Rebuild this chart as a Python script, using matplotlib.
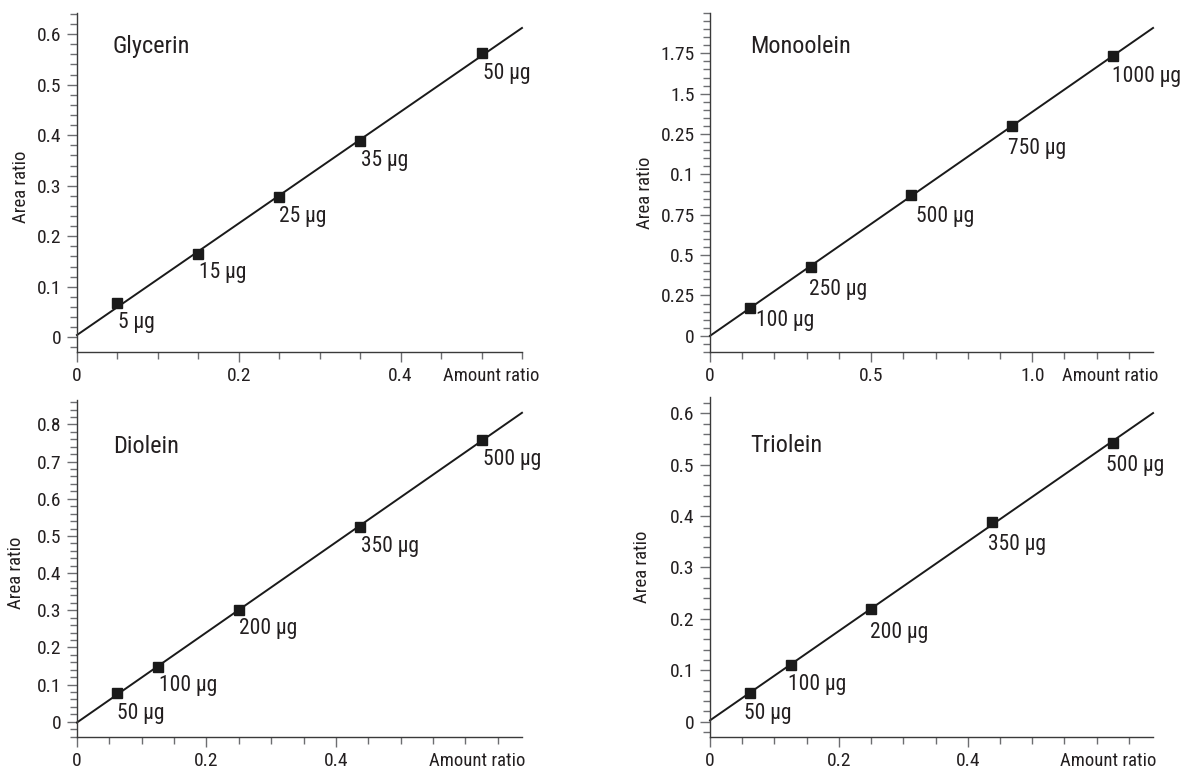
import matplotlib
matplotlib.use("Agg")
import matplotlib.pyplot as plt
import numpy as np
from matplotlib import font_manager
from matplotlib.ticker import MultipleLocator

# pick a condensed sans (the original uses a Univers-Condensed style face)
avail = {f.name for f in font_manager.fontManager.ttflist}
for cand in ['Roboto Condensed', 'IBM Plex Sans Condensed', 'Archivo Narrow', 'PT Sans Narrow']:
    if cand in avail:
        plt.rcParams['font.family'] = [cand, 'DejaVu Sans']
        break
else:
    plt.rcParams['font.family'] = ['DejaVu Sans']

# --- data ---
names = ["Glycerin", "Monoolein", "Diolein", "Triolein"]

gly_x = [0.05, 0.15, 0.25, 0.35, 0.50]
gly_y = [0.067, 0.165, 0.277, 0.388, 0.562]
gly_lab = ["5 µg", "15 µg", "25 µg", "35 µg", "50 µg"]

mono_x = [0.125, 0.3125, 0.625, 0.9375, 1.25]
mono_y = [0.175, 0.429, 0.870, 1.300, 1.733]
mono_lab = ["100 µg", "250 µg", "500 µg", "750 µg", "1000 µg"]

dio_x = [0.0625, 0.125, 0.25, 0.4375, 0.625]
dio_y = [0.076, 0.148, 0.301, 0.525, 0.758]
dio_lab = ["50 µg", "100 µg", "200 µg", "350 µg", "500 µg"]

tri_x = [0.0625, 0.125, 0.25, 0.4375, 0.625]
tri_y = [0.056, 0.110, 0.220, 0.388, 0.543]
tri_lab = ["50 µg", "100 µg", "200 µg", "350 µg", "500 µg"]

# y tick labels as printed in the reference (Monoolein has odd labels)
gly_yticks = [0, 0.1, 0.2, 0.3, 0.4, 0.5, 0.6]
gly_yticklabels = ["0", "0.1", "0.2", "0.3", "0.4", "0.5", "0.6"]
mono_yticks = [0, 0.25, 0.5, 0.75, 1.0, 1.25, 1.5, 1.75]
mono_yticklabels = ["0", "0.25", "0.5", "0.75", "0.1", "0.25", "1.5", "1.75"]
dio_yticks = [0, 0.1, 0.2, 0.3, 0.4, 0.5, 0.6, 0.7, 0.8]
dio_yticklabels = ["0", "0.1", "0.2", "0.3", "0.4", "0.5", "0.6", "0.7", "0.8"]
tri_yticks = gly_yticks
tri_yticklabels = gly_yticklabels

gly_xticklabels = ["0", "0.2", "0.4"]
mono_xticklabels = ["0", "0.5", "1.0"]

TXT = '#231f20'

fig = plt.figure(figsize=(11.82, 7.70), dpi=100)

panels = [
    dict(x=gly_x, y=gly_y, lab=gly_lab, rect=[0.0651, 0.5429, 0.3765, 0.4403],
         xlim=(0, 0.55), ylim=(-0.029, 0.642), xt=[0, 0.2, 0.4], xtl=gly_xticklabels, xm=0.05,
         yt=gly_yticks, ytl=gly_yticklabels, ym=0.02, name_pos=(0.081, 0.90),
         off=[(1, -19), (1, -19), (0, -19), (1, -19), (1, -20)], amt_dx=17,
         ylab_pos=(-0.126, 0.487)),
    dict(x=mono_x, y=mono_y, lab=mono_lab, rect=[0.6007, 0.5429, 0.3748, 0.4403],
         xlim=(0, 1.375), ylim=(-0.1, 2.0), xt=[0, 0.5, 1.0], xtl=mono_xticklabels, xm=0.1,
         yt=mono_yticks, ytl=mono_yticklabels, ym=0.05, name_pos=(0.091, 0.90),
         off=[(6, -13), (-2, -23), (5, -21), (-4, -23), (-1, -20)], amt_dx=5,
         ylab_pos=(-0.147, 0.469)),
    dict(x=dio_x, y=dio_y, lab=dio_lab, rect=[0.0651, 0.0429, 0.3765, 0.4377],
         xlim=(0, 0.6875), ylim=(-0.041, 0.866), xt=[0, 0.2, 0.4], xtl=gly_xticklabels, xm=0.05,
         yt=dio_yticks, ytl=dio_yticklabels, ym=0.02, name_pos=(0.081, 0.861),
         off=[(0, -20), (1, -19), (0, -19), (1, -20), (1, -19)], amt_dx=3,
         ylab_pos=(-0.137, 0.487)),
    dict(x=tri_x, y=tri_y, lab=tri_lab, rect=[0.6007, 0.0429, 0.3748, 0.4416],
         xlim=(0, 0.6875), ylim=(-0.030, 0.632), xt=[0, 0.2, 0.4], xtl=gly_xticklabels, xm=0.05,
         yt=tri_yticks, ytl=tri_yticklabels, ym=0.02, name_pos=(0.091, 0.856),
         off=[(-6, -21), (-3, -19), (-1, -24), (-4, -22), (-7, -23)], amt_dx=3,
         ylab_pos=(-0.153, 0.50)),
]

for name, p in zip(names, panels):
    ax = fig.add_axes(p['rect'])
    ax.set_xlim(*p['xlim'])
    ax.set_ylim(*p['ylim'])
    for s in ['top', 'right']:
        ax.spines[s].set_visible(False)
    for s in ['left', 'bottom']:
        ax.spines[s].set_color('#3a3a3a')
        ax.spines[s].set_linewidth(1.0)

    # calibration line fitted through the points
    k, b = np.polyfit(p['x'], p['y'], 1)
    xs = np.array(p['xlim'])
    ax.plot(xs, k * xs + b, color='#1a1a1a', lw=1.4, clip_on=False, zorder=2)
    ax.plot(p['x'], p['y'], 's', color='#1a1a1a', ms=6.5, zorder=3, clip_on=False)

    for xi, yi, t, (dx, dy) in zip(p['x'], p['y'], p['lab'], p['off']):
        ax.annotate(t, (xi, yi), xytext=(dx, dy), textcoords='offset pixels',
                    ha='left', va='center', fontsize=15.5, color=TXT)

    ax.text(p['name_pos'][0], p['name_pos'][1], name, transform=ax.transAxes,
            ha='left', va='center', fontsize=17.5, color=TXT)

    ax.set_xticks(p['xt'])
    ax.set_xticklabels(p['xtl'])
    ax.xaxis.set_minor_locator(MultipleLocator(p['xm']))
    ax.set_yticks(p['yt'])
    ax.set_yticklabels(p['ytl'])
    ax.yaxis.set_minor_locator(MultipleLocator(p['ym']))
    ax.tick_params(which='major', length=7.5, width=1.0, color='#6d6e71',
                   labelsize=14, labelcolor=TXT, pad=3.5)
    ax.tick_params(which='minor', length=4.8, width=1.0, color='#6d6e71')
    ax.tick_params(axis='x', which='major', pad=3)

    ax.annotate("Amount ratio", (1, 0), xycoords='axes fraction',
                xytext=(p['amt_dx'], -24), textcoords='offset pixels',
                ha='right', va='center', fontsize=13.5, color=TXT)
    ax.text(p['ylab_pos'][0], p['ylab_pos'][1], "Area ratio", transform=ax.transAxes,
            rotation=90, ha='center', va='center', fontsize=13.5, color=TXT)

fig.savefig("out.png", dpi=100)
